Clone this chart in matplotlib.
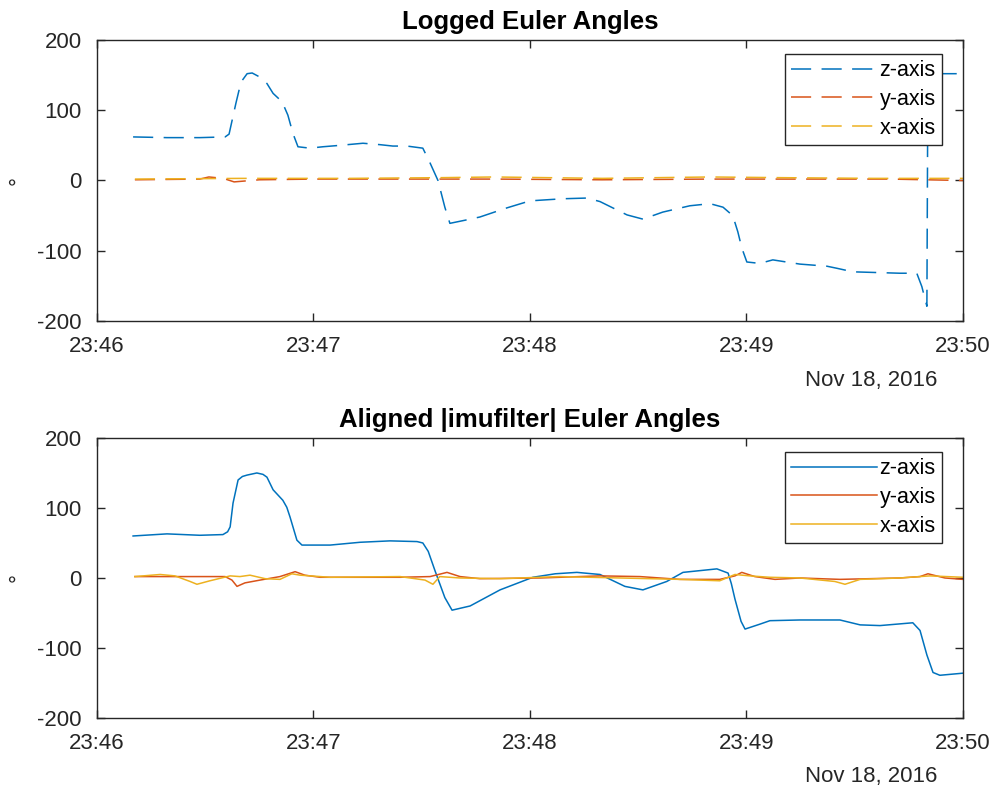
import numpy as np
import pandas as pd
import matplotlib
matplotlib.use("Agg")
import matplotlib.pyplot as plt
import matplotlib.dates as mdates

plt.rcParams['font.family'] = ['Liberation Sans', 'DejaVu Sans']
plt.rcParams['lines.scale_dashes'] = False
plt.rcParams['axes.unicode_minus'] = False

t0 = pd.Timestamp("2016-11-18 23:46:00")
xlim_sec = [0, 240]

# logged orientation (seconds after 23:46, degrees)
log_z_t = [10.0, 19.4, 28.5, 35.5, 36.6, 38.5, 39.9, 41.6, 43.0, 45.2, 47.1, 48.8,
           51.3, 52.9, 54.3, 55.7, 59.0, 62.6, 67.3, 73.7, 78.4, 82.0, 85.9, 90.3,
           92.3, 94.5, 96.4, 97.8, 102.5, 106.1, 113.6, 120.0, 129.1, 135.8, 139.4,
           146.9, 151.3, 156.8, 164.3, 169.9, 173.5, 176.2, 177.6, 178.7, 180.1,
           183.7, 187.3, 194.8, 202.3, 205.1, 209.5, 222.5, 227.2, 228.6, 230.0,
           230.3, 231.7, 233.6, 240.0]
log_z = [62, 61, 61, 62, 66, 110, 140, 152, 153, 147, 138, 124,
         112, 93, 67, 48, 46, 48, 50, 53, 51, 49, 49, 46,
         25, 0, -38, -61, -56, -52, -39, -29, -26, -25, -30,
         -49, -55, -45, -36, -33, -38, -50, -73, -96, -116,
         -118, -113, -119, -122, -125, -130, -132, -132, -151, -179,
         179, 160, 152, 152]
log_y_t = [10.5, 28.5, 31.0, 35.0, 38.0, 45.0, 60.0, 90.0, 110.0, 140.0, 170.0, 200.0, 220.0, 240.0]
log_y = [1, 2, 5, 3, -2, 1, 2, 2, 2, 1, 2, 2, 2, 0]
log_x_t = [10.5, 40.0, 70.0, 95.0, 110.0, 140.0, 170.0, 190.0, 215.0, 240.0]
log_x = [2, 3, 3, 4, 5, 3, 5, 4, 3, 3]

# imufilter output
flt_z_t = [10.0, 19.4, 28.5, 34.9, 36.2, 36.9, 37.7, 39.1, 40.3, 41.6, 44.3, 46.0,
           47.1, 48.8, 51.5, 52.6, 53.5, 55.4, 56.8, 64.6, 72.9, 81.2, 88.7, 90.3,
           91.8, 93.7, 96.4, 98.4, 103.4, 111.7, 120.8, 127.0, 133.0, 139.4, 146.3,
           151.3, 157.9, 162.4, 171.8, 174.9, 175.8, 176.8, 178.5, 179.6, 183.7,
           186.5, 194.8, 205.9, 211.5, 217.0, 226.1, 228.1, 230.0, 231.7, 233.6, 240.0]
flt_z = [60, 63, 61, 62, 66, 73, 107, 140, 145, 147, 150, 148,
         144, 126, 111, 101, 87, 54, 47, 47, 51, 53, 52, 50,
         38, 10, -28, -46, -40, -17, 1, 6, 8, 5, -12,
         -17, -5, 8, 13, 7, -8, -30, -62, -73, -66,
         -61, -60, -60, -67, -68, -64, -75, -110, -135, -139, -136]
flt_y_t = [10.5, 28.5, 35.5, 37.4, 38.8, 41.0, 45.2, 50.7, 54.9, 57.6, 61.8, 84.0,
           92.3, 97.0, 100.6, 106.1, 122.8, 139.4, 150.5, 161.5, 172.6, 176.8,
           178.7, 182.3, 187.9, 194.8, 205.9, 222.5, 228.1, 230.3, 235.0, 240.0]
flt_y = [2, 2, 2, -3, -12, -7, -3, 2, 9, 4, 1, 1,
         2, 8, 2, -1, 0, 3, 2, -2, -2, 3,
         8, 2, -2, 0, -2, 0, 2, 6, 0, -2]
flt_x_t = [10.5, 17.5, 21.6, 25.8, 27.7, 31.3, 36.9, 39.6, 42.4, 46.6, 50.7, 54.0,
           56.3, 64.6, 84.0, 90.9, 93.1, 95.0, 100.6, 111.7, 128.3, 144.9, 161.5,
           172.6, 176.8, 180.9, 186.5, 194.8, 204.5, 207.3, 211.5, 222.5, 230.8, 240.0]
flt_x = [2, 5, 3, -5, -9, -4, 3, 2, 4, -1, -2, 6,
         4, 1, 2, -3, -9, 2, 0, -1, 2, 0, -2,
         -4, 5, 3, 1, 0, -5, -9, -2, 0, 3, 1]

labels = ["z-axis", "y-axis", "x-axis"]
colors = ["#0072BD", "#D95319", "#EDB120"]
titles = ["Logged Euler Angles", "Aligned |imufilter| Euler Angles"]


def to_time(sec):
    return t0 + pd.to_timedelta(np.asarray(sec, dtype=float), unit="s")


fig = plt.figure(figsize=(9.98, 7.93), dpi=100)
ax1 = fig.add_axes([0.0972, 0.5952, 0.8677, 0.3544])
ax2 = fig.add_axes([0.0972, 0.0946, 0.8677, 0.3531])

dash = (0, (14.5, 7.5))
panels = [
    (ax1, [(log_z_t, log_z), (log_y_t, log_y), (log_x_t, log_x)], dash),
    (ax2, [(flt_z_t, flt_z), (flt_y_t, flt_y), (flt_x_t, flt_x)], "-"),
]

ink = "#262626"
for i, (ax, series, ls) in enumerate(panels):
    for (t, v), lab, c in zip(series, labels, colors):
        ax.plot(to_time(t), v, color=c, lw=1.1, ls=ls, label=lab)
    ax.set_xlim(to_time(xlim_sec))
    ax.set_ylim(-200, 200)
    ax.set_yticks([-200, -100, 0, 100, 200])
    ax.xaxis.set_major_locator(mdates.MinuteLocator())
    ax.xaxis.set_major_formatter(mdates.DateFormatter("%H:%M"))
    ax.tick_params(direction="in", length=6, width=1, colors=ink, labelsize=16,
                   top=True, right=True, pad=11)
    for s in ax.spines.values():
        s.set_color(ink)
        s.set_linewidth(1)
    ax.set_title(titles[i], fontsize=18.5, fontweight="bold", color="black", pad=8)
    ax.set_ylabel("°", fontsize=16, color=ink)
    ax.yaxis.set_label_coords(-0.078, 0.5)
    ax.text(0.894, -0.21, "Nov 18, 2016", transform=ax.transAxes, fontsize=16,
            color=ink, ha="center", va="center")
    leg = ax.legend(loc="upper right", bbox_to_anchor=(0.976, 0.951), borderaxespad=0,
                    fontsize=15.5, fancybox=False, framealpha=1, edgecolor=ink,
                    handlelength=4.0, handletextpad=0.1, labelspacing=0.36,
                    borderpad=0.3)
    leg.get_frame().set_linewidth(1)

fig.savefig("out.png", dpi=100)
